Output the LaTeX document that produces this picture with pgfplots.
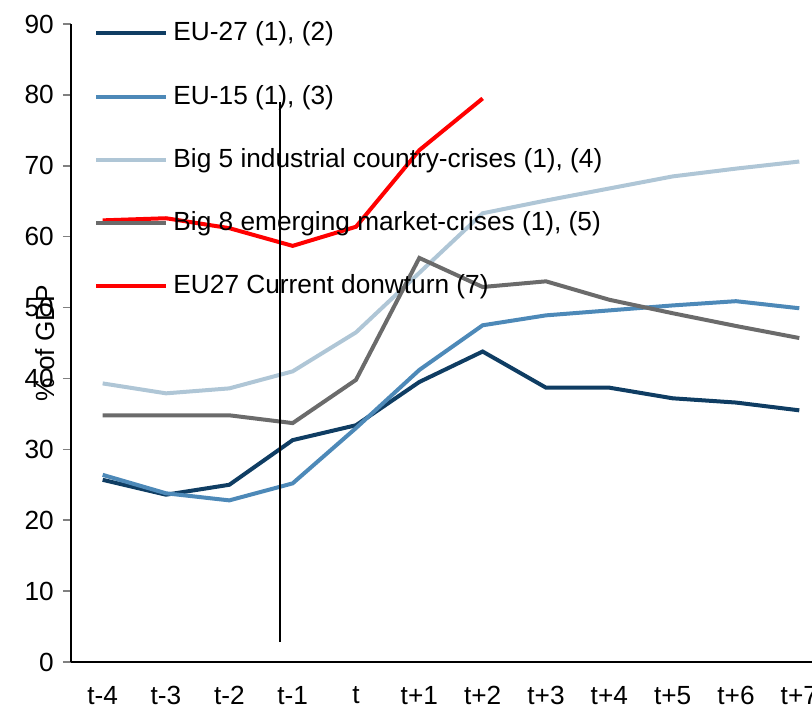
\documentclass[border=0pt]{standalone}
\usepackage{pgfplots}
\pgfplotsset{compat=1.18}
\usepackage{fontspec}
\setmainfont{Liberation Sans}
\definecolor{eutwo}{HTML}{0F3D63}
\definecolor{eufif}{HTML}{4D89B8}
\definecolor{bigfive}{HTML}{AFC6D6}
\definecolor{bigeight}{HTML}{6B6B6B}
\definecolor{redline}{HTML}{FF0000}
\begin{document}
\fontsize{10.5pt}{12pt}\selectfont
\begin{tikzpicture}
\begin{axis}[
  scale only axis,
  width=296.4pt, height=255.2pt,
  xmin=-0.5, xmax=11.2,
  ymin=0, ymax=90,
  axis x line*=bottom, axis y line*=left,
  axis line style={line width=0.8pt},
  every axis plot/.append style={line width=1.6pt},
  /pgf/number format/assume math mode=true,
  ticklabel style={font=\fontsize{10.5pt}{12pt}\selectfont},
  ytick={0,10,...,90},
  tick align=outside,
  major tick length=3.2pt,
  ytick style={line width=0.6pt},
  xtick={0,...,11},
  xticklabels={t-4,t-3,t-2,t-1,t,t+1,t+2,t+3,t+4,t+5,t+6,t+7},
  xtick style={draw=none},
  minor xtick={-0.5,0.5,...,10.5},
  minor tick length=2.8pt,
  minor x tick style={line width=0.6pt,black},
  xticklabel style={yshift=-2.9pt},
  ylabel={\% of GDP},
  ylabel style={at={(axis description cs:-0.035,0.5)}, anchor=center, font=\fontsize{10.5pt}{12pt}\selectfont},
  legend cell align=left,
  legend style={at={(axis description cs:0.031,1.012)}, anchor=north west, draw=none, fill=none,
    font=\fontsize{10.5pt}{12pt}\selectfont, row sep=12.1pt, inner sep=0pt},
  legend image code/.code={\draw[#1] (0pt,0pt) -- (28pt,0pt);},
]
\addplot[eutwo] coordinates {(0,25.7) (1,23.6) (2,25.0) (3,31.3) (4,33.4) (5,39.5) (6,43.8) (7,38.7) (8,38.7) (9,37.2) (10,36.6) (11,35.5)};
\addlegendentry{EU-27 (1), (2)}
\addplot[eufif] coordinates {(0,26.4) (1,23.8) (2,22.8) (3,25.2) (4,33.0) (5,41.2) (6,47.5) (7,48.9) (8,49.6) (9,50.3) (10,50.9) (11,49.9)};
\addlegendentry{EU-15 (1), (3)}
\addplot[bigfive] coordinates {(0,39.3) (1,37.9) (2,38.6) (3,41.0) (4,46.5) (5,54.9) (6,63.3) (7,65.1) (8,66.8) (9,68.5) (10,69.6) (11,70.6)};
\addlegendentry{Big 5 industrial country-crises (1), (4)}
\addplot[bigeight] coordinates {(0,34.8) (1,34.8) (2,34.8) (3,33.7) (4,39.8) (5,57.0) (6,52.9) (7,53.7) (8,51.1) (9,49.2) (10,47.4) (11,45.7)};
\addlegendentry{Big 8 emerging market-crises (1), (5)}
\addplot[redline] coordinates {(0,62.3) (1,62.6) (2,61.2) (3,58.7) (4,61.4) (5,72.2) (6,79.5)};
\addlegendentry{EU27 Current donwturn (7)}
\addplot[black, line width=0.6pt, forget plot] coordinates {(2.8,2.8) (2.8,79)};
\end{axis}
\pgfresetboundingbox
\path[use as bounding box] (-28.4pt,-20pt) rectangle (296.4pt,264.8pt);
\end{tikzpicture}
\end{document}
